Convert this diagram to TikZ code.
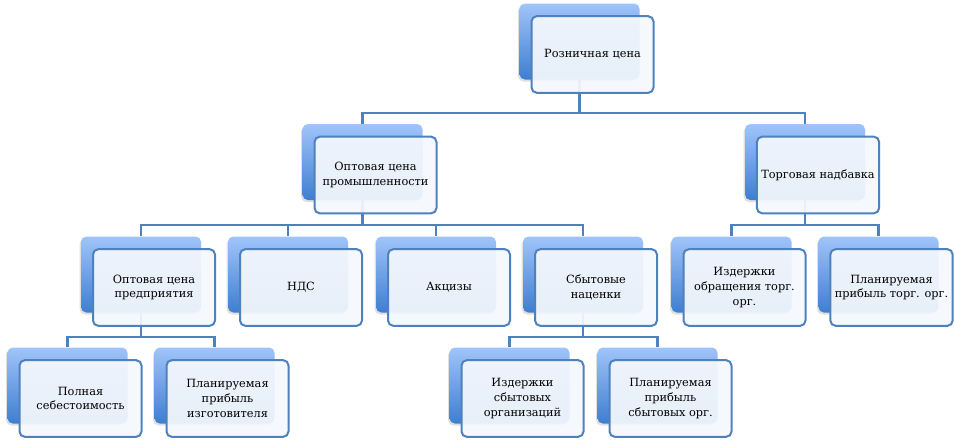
\documentclass[tikz,border=0pt]{standalone}
\usepackage{fontspec}
\setmainfont{DejaVu Serif}
\usetikzlibrary{positioning,shadows}
\definecolor{bluetop}{RGB}{160,196,250}
\definecolor{bluebot}{RGB}{62,126,208}
\definecolor{linecol}{RGB}{79,129,189}
\definecolor{frontfill}{RGB}{244,248,253}

\begin{document}
\begin{tikzpicture}[x=0.75pt, y=-0.75pt,
  back/.style={rectangle, rounded corners=4pt, minimum width=90pt, minimum height=57pt,
    top color=bluetop, bottom color=bluebot,
    drop shadow={shadow xshift=-1pt, shadow yshift=-1.5pt, opacity=0.25}},
  front/.style={rectangle, rounded corners=4pt, minimum width=91.5pt, minimum height=57.5pt,
    draw=linecol, line width=1.5pt, fill=frontfill, fill opacity=0.93, text opacity=1,
    align=center, font=\fontsize{8.5}{11}\selectfont},
  conn/.style={draw=linecol, line width=1.6pt}]
\useasboundingbox (0,0) rectangle (955,440);
% Уровень 1
\node[back] (roz) at (579.5,41.5) {};
% Уровень 2
\node[back] (opt) at (362.5,162) {};
\node[back] (torg) at (805,162) {};
% Уровень 3
\foreach \n/\x in {pred/141, nds/288, akc/436, sbyt/583, izdt/731.5, plant/878.5}
    \node[back] (\n) at (\x,274.5) {};
% Уровень 4
\foreach \n/\x in {poln/67.5, plani/214.5, izds/509.5, plans/657.5}
    \node[back] (\n) at (\x,385.5) {};
% Соединения
\foreach \c in {opt,torg}
    \draw[conn] (roz.south) -- ++(0,33) -| (\c.north);
\foreach \c in {pred,nds,akc,sbyt}
    \draw[conn] (opt.south) -- ++(0,25) -| (\c.north);
\foreach \c in {izdt,plant}
    \draw[conn] (torg.south) -- ++(0,25) -| (\c.north);
\foreach \c in {poln,plani}
    \draw[conn] (pred.south) -- ++(0,24) -| (\c.north);
\foreach \c in {izds,plans}
    \draw[conn] (sbyt.south) -- ++(0,24) -| (\c.north);
% Подписи
\foreach \n/\t in {roz/{Розничная цена},
                   opt/{Оптовая цена\\промышленности},
                   torg/{Торговая надбавка},
                   pred/{Оптовая цена\\предприятия},
                   nds/{НДС},
                   akc/{Акцизы},
                   sbyt/{Сбытовые\\наценки},
                   izdt/{Издержки\\обращения торг.\\орг.},
                   plant/{Планируемая\\прибыль торг. орг.},
                   poln/{Полная\\себестоимость},
                   plani/{Планируемая\\прибыль\\изготовителя},
                   izds/{Издержки\\сбытовых\\организаций},
                   plans/{Планируемая\\прибыль\\сбытовых орг.}}
    \node[front] (\n F) at ([shift={(13,13)}]\n.center) {\t};
\end{tikzpicture}
\end{document}
